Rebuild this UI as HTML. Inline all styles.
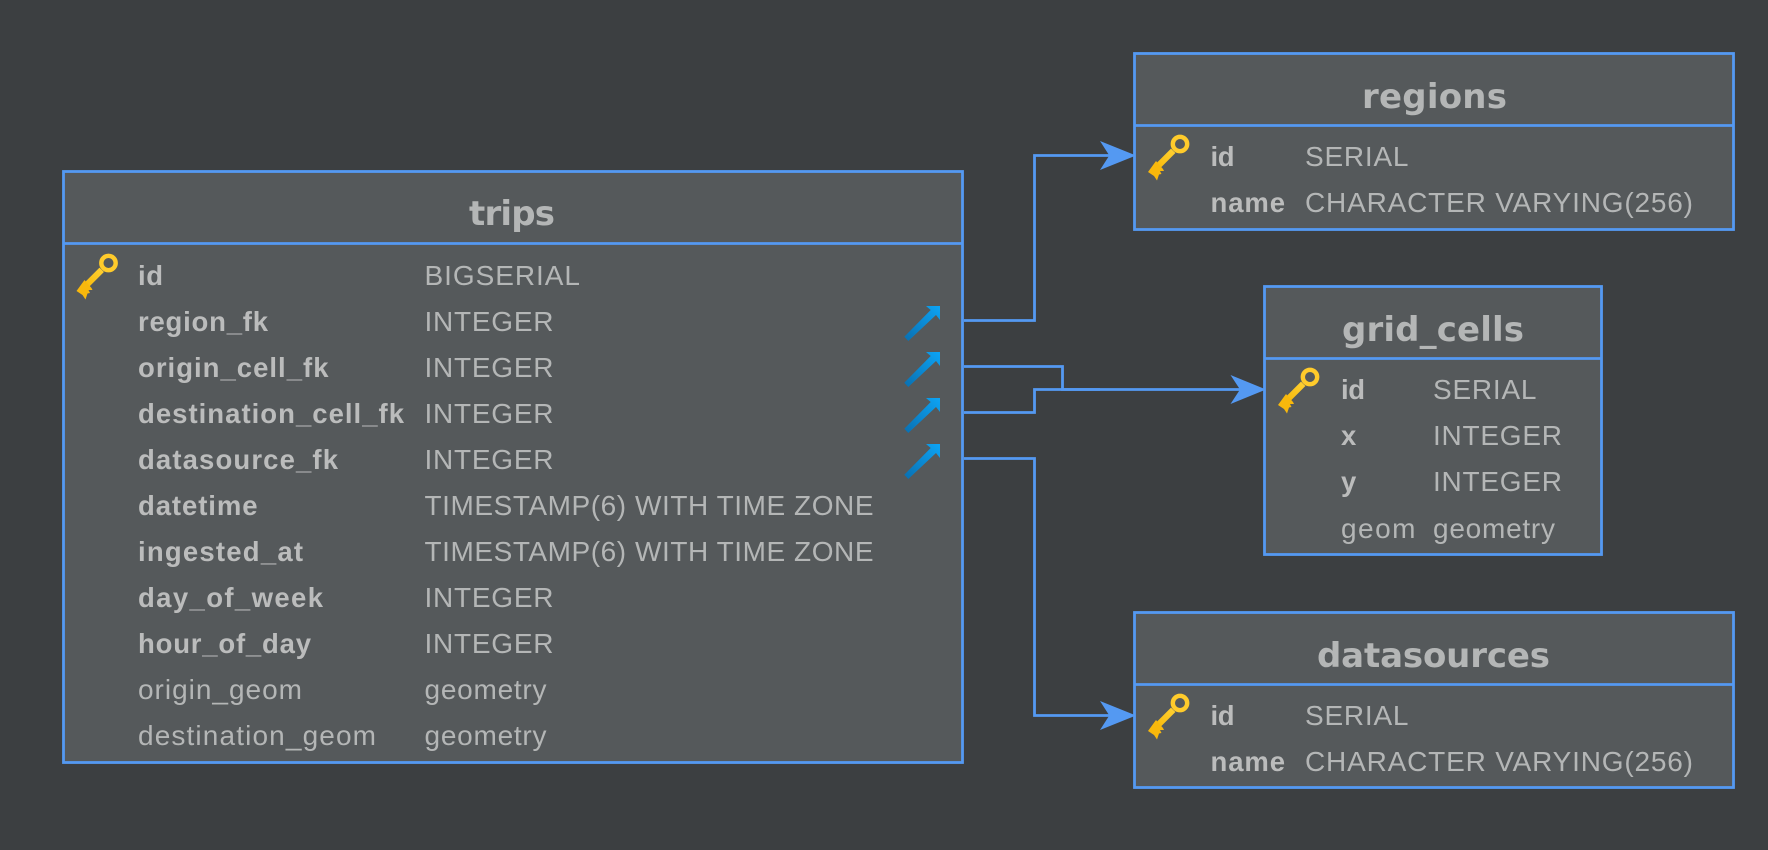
<!DOCTYPE html>
<html><head><meta charset="utf-8"><style>
html,body{margin:0;padding:0;background:#3c3f41;width:1768px;height:850px;overflow:hidden}
svg{display:block}
text{font-family:"Liberation Sans",Arial,sans-serif;font-size:28px;fill:#b4b6b6}
.b{font-weight:bold;font-size:27.5px;fill:#bbbcbc}
.t{font-family:"DejaVu Sans",sans-serif;font-weight:bold;font-size:34px;fill:#b4b6b6}
.box{fill:#55595b;stroke:#5499f2;stroke-width:2.8}
.l{stroke:#5499f2;stroke-width:2.8;fill:none}
</style></head><body>
<svg width="1768" height="850" viewBox="0 0 1768 850" xmlns="http://www.w3.org/2000/svg">
<defs>
<linearGradient id="kg" x1="1" y1="0" x2="0" y2="1"><stop offset="0" stop-color="#ffd236"/><stop offset="1" stop-color="#f6b400"/></linearGradient>
<linearGradient id="fg" x1="1" y1="0" x2="0" y2="1"><stop offset="0" stop-color="#0ca4f5"/><stop offset="1" stop-color="#0a6fb0"/></linearGradient>
<g id="key">
<circle cx="0" cy="0" r="7.2" fill="none" stroke="#ffcb2b" stroke-width="4.4"/>
<path d="M-9 4.6 L-28 23.6 L-23.6 28 L-4.6 9 Z" fill="url(#kg)"/>
<path d="M-32 28 L-24 17 L-17 25 L-16 27 L-20 27 L-18.5 30 L-21 30.5 L-23 36.5 L-26 32 Z" fill="#f8b80c"/>
</g>
<g id="fk">
<path d="M926 306 H940 V320 L936 315 L908.3 341 L904.3 336.7 L930.7 310 Z" fill="url(#fg)"/>
</g>
</defs>
<rect width="1768" height="850" fill="#3c3f41"/>

<!-- connectors -->
<path class="l" d="M964 320.5H1034.5V155.5H1110"/>
<path class="l" d="M964 366.5H1062.5V389.5H1240"/>
<path class="l" d="M964 412.5H1034.5V389.5H1100"/>
<path class="l" d="M964 458.5H1034.5V715.5H1110"/>
<path d="M1136 155.5L1100 141L1109.3 155.5L1100 170Z" fill="#5499f2"/>
<path d="M1266 389.5L1230.5 375L1240 389.5L1230.5 404Z" fill="#5499f2"/>
<path d="M1136 715.5L1100 701L1109.3 715.5L1100 730Z" fill="#5499f2"/>

<!-- trips -->
<rect class="box" x="63.5" y="171.5" width="899" height="591"/>
<path class="l" d="M63.5 243.5H962.5"/>
<text class="t" x="469" y="225" textLength="86">trips</text>
<use href="#key" x="108.5" y="263"/>
<use href="#fk"/><use href="#fk" y="46"/><use href="#fk" y="92"/><use href="#fk" y="138"/>
<text class="b" x="138" y="285" textLength="25">id</text>
<text class="b" x="138" y="331" textLength="130">region_fk</text>
<text class="b" x="138" y="377" textLength="190.5">origin_cell_fk</text>
<text class="b" x="138" y="423" textLength="266">destination_cell_fk</text>
<text class="b" x="138" y="469" textLength="200">datasource_fk</text>
<text class="b" x="138" y="515" textLength="119.5">datetime</text>
<text class="b" x="138" y="561" textLength="165">ingested_at</text>
<text class="b" x="138" y="607" textLength="185">day_of_week</text>
<text class="b" x="138" y="653" textLength="173">hour_of_day</text>
<text x="138" y="699" textLength="164">origin_geom</text>
<text x="138" y="745" textLength="238">destination_geom</text>
<text x="424.5" y="285" textLength="155.5">BIGSERIAL</text>
<text x="424.5" y="331" textLength="129">INTEGER</text>
<text x="424.5" y="377" textLength="129">INTEGER</text>
<text x="424.5" y="423" textLength="129">INTEGER</text>
<text x="424.5" y="469" textLength="129">INTEGER</text>
<text x="424.5" y="515" textLength="449">TIMESTAMP(6) WITH TIME ZONE</text>
<text x="424.5" y="561" textLength="449">TIMESTAMP(6) WITH TIME ZONE</text>
<text x="424.5" y="607" textLength="129">INTEGER</text>
<text x="424.5" y="653" textLength="129">INTEGER</text>
<text x="424.5" y="699" textLength="122">geometry</text>
<text x="424.5" y="745" textLength="122">geometry</text>

<!-- regions -->
<rect class="box" x="1134.5" y="53.5" width="599" height="176"/>
<path class="l" d="M1134.5 125.5H1733.5"/>
<text class="t" x="1362" y="108" textLength="145">regions</text>
<use href="#key" x="1180" y="144"/>
<text class="b" x="1210.5" y="166" textLength="24">id</text>
<text class="b" x="1210.5" y="212" textLength="74.5">name</text>
<text x="1305" y="166" textLength="103.5">SERIAL</text>
<text x="1305" y="212" textLength="388">CHARACTER VARYING(256)</text>

<!-- grid_cells -->
<rect class="box" x="1264.5" y="286.5" width="337" height="268"/>
<path class="l" d="M1264.5 358.5H1601.5"/>
<text class="t" x="1342" y="341" textLength="182">grid_cells</text>
<use href="#key" x="1310" y="377"/>
<text class="b" x="1341" y="399" textLength="24">id</text>
<text class="b" x="1341" y="445" textLength="15">x</text>
<text class="b" x="1341" y="491" textLength="15">y</text>
<text x="1341" y="538" textLength="74.5">geom</text>
<text x="1433" y="399" textLength="103.5">SERIAL</text>
<text x="1433" y="445" textLength="129">INTEGER</text>
<text x="1433" y="491" textLength="129">INTEGER</text>
<text x="1433" y="538" textLength="122">geometry</text>

<!-- datasources -->
<rect class="box" x="1134.5" y="612.5" width="599" height="175"/>
<path class="l" d="M1134.5 684.5H1733.5"/>
<text class="t" x="1317" y="667" textLength="233">datasources</text>
<use href="#key" x="1180" y="703"/>
<text class="b" x="1210.5" y="725" textLength="24">id</text>
<text class="b" x="1210.5" y="771" textLength="74.5">name</text>
<text x="1305" y="725" textLength="103.5">SERIAL</text>
<text x="1305" y="771" textLength="388">CHARACTER VARYING(256)</text>
</svg>
</body></html>
